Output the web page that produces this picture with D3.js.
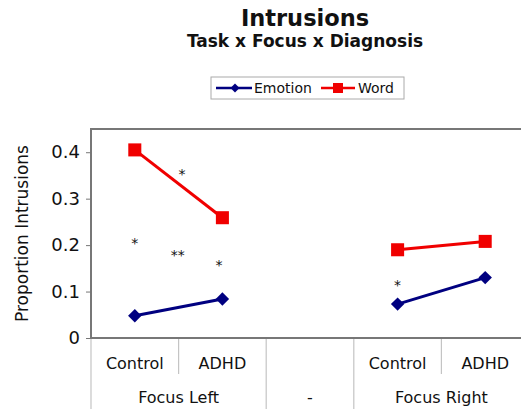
<!DOCTYPE html>
<html>
<head>
<meta charset="utf-8">
<script src="https://cdn.jsdelivr.net/npm/d3@7"></script>
<style>
  body { margin: 0; background: #fff; }
  text { font-family: "DejaVu Sans", Verdana, sans-serif; fill: #111; }
</style>
</head>
<body>
<script>
// categories along the x axis (5 slots, middle one empty)
var slots = ["Control", "ADHD", "", "Control", "ADHD"];
var groups = [
  {label: "Focus Left", from: 0, to: 2},
  {label: "-", from: 2, to: 3},
  {label: "Focus Right", from: 3, to: 5}
];
// series values, split in the left and right focus segments
var seriesNames = ["Emotion", "Word"];
var emotionLeft = [0.048, 0.084];
var emotionRight = [0.073, 0.130];
var wordLeft = [0.405, 0.259];
var wordRight = [0.190, 0.208];
var yTicks = [0, 0.1, 0.2, 0.3, 0.4];
// significance asterisks: slot position and value
var starPos = [0, 0.54, 0.49, 0.96, 3];
var starVal = [0.21, 0.358, 0.184, 0.164, 0.121];
var starText = ["*", "*", "**", "*", "*"];

var width = 521, height = 409;
var margin = {top: 129, left: 91, bottom: 71};
var plotRight = 529;

var blue = "#000080", red = "#f00000";

var svg = d3.select("body").append("svg")
    .attr("width", width)
    .attr("height", height);

var x = d3.scaleBand().domain(d3.range(slots.length)).range([margin.left, plotRight]).padding(0);
var xPos = d3.scaleLinear().domain([-0.5, slots.length - 0.5]).range([margin.left, plotRight]);
var y = d3.scaleLinear().domain([0, 0.45]).range([height - margin.bottom, margin.top]);

// title
svg.append("text")
    .attr("x", 305).attr("y", 26)
    .attr("text-anchor", "middle")
    .style("font-size", "22.5px").style("font-weight", "bold")
    .text("Intrusions");
svg.append("text")
    .attr("x", 305).attr("y", 47)
    .attr("text-anchor", "middle")
    .style("font-size", "17px").style("font-weight", "bold")
    .text("Task x Focus x Diagnosis");

// legend
var lg = svg.append("g").attr("transform", "translate(211,77)");
lg.append("rect").attr("width", 193).attr("height", 22)
    .attr("fill", "#fff").attr("stroke", "#aaa");
lg.append("line").attr("x1", 5).attr("x2", 41).attr("y1", 11).attr("y2", 11)
    .attr("stroke", blue).attr("stroke-width", 2.5);
lg.append("path").attr("d", d3.symbol(d3.symbolSquare, 40)())
    .attr("transform", "translate(24,11) rotate(45)").attr("fill", blue);
lg.append("text").attr("x", 43).attr("y", 16).style("font-size", "14px").text(seriesNames[0]);
lg.append("line").attr("x1", 110).attr("x2", 144).attr("y1", 11).attr("y2", 11)
    .attr("stroke", red).attr("stroke-width", 2.5);
lg.append("path").attr("d", d3.symbol(d3.symbolSquare, 100)())
    .attr("transform", "translate(127,11)").attr("fill", red);
lg.append("text").attr("x", 147).attr("y", 16).style("font-size", "14px").text(seriesNames[1]);

// plot frame
svg.append("rect")
    .attr("x", margin.left).attr("y", margin.top)
    .attr("width", plotRight - margin.left)
    .attr("height", y(0) - margin.top)
    .attr("fill", "#fff").attr("stroke", "#777").attr("stroke-width", 2);

// y axis
var yAxis = d3.axisLeft(y).tickValues(yTicks).tickSize(5).tickPadding(6)
    .tickFormat(function(d) { return d === 0 ? "0" : d.toFixed(1); });
var ya = svg.append("g").attr("transform", "translate(" + margin.left + ",0)").call(yAxis);
ya.select(".domain").remove();
ya.selectAll(".tick line").attr("stroke", "#777");
ya.selectAll(".tick text").style("font-size", "18px").attr("fill", "#111")
    .style("font-family", "DejaVu Sans, Verdana, sans-serif");

svg.append("text")
    .attr("transform", "translate(28," + ((margin.top + y(0)) / 2) + ") rotate(-90)")
    .attr("text-anchor", "middle")
    .style("font-size", "17px")
    .text("Proportion Intrusions");

// category axis: slot dividers and labels
var divs = d3.range(slots.length + 1);
svg.selectAll(".div").data(divs).enter().append("line")
    .attr("x1", function(d) { return d < slots.length ? x(d) : plotRight; })
    .attr("x2", function(d) { return d < slots.length ? x(d) : plotRight; })
    .attr("y1", y(0) + 1)
    .attr("y2", function(d) {
      var isGroupEdge = groups.some(function(g) { return g.from === d || g.to === d; });
      return isGroupEdge ? height : y(0) + 36;
    })
    .attr("stroke", "#c4c4c4").attr("stroke-width", 1.2);

svg.selectAll(".cat").data(slots).enter().append("text")
    .attr("x", function(d, i) { return x(i) + x.bandwidth() / 2; })
    .attr("y", y(0) + 31)
    .attr("text-anchor", "middle")
    .style("font-size", "16px")
    .text(function(d) { return d; });

svg.selectAll(".grp").data(groups).enter().append("text")
    .attr("x", function(d) { return (xPos(d.from - 0.5) + xPos(d.to - 0.5)) / 2; })
    .attr("y", y(0) + 65)
    .attr("text-anchor", "middle")
    .style("font-size", "16px")
    .text(function(d) { return d.label; });

// series lines and markers
var line = d3.line().x(function(d) { return xPos(d[0]); }).y(function(d) { return y(d[1]); });
function seg(vals, start) { return vals.map(function(v, i) { return [start + i, v]; }); }

var emotion = [seg(emotionLeft, 0), seg(emotionRight, 3)];
var word = [seg(wordLeft, 0), seg(wordRight, 3)];

emotion.forEach(function(s) {
  svg.append("path").datum(s).attr("d", line)
      .attr("fill", "none").attr("stroke", blue).attr("stroke-width", 3);
});
word.forEach(function(s) {
  svg.append("path").datum(s).attr("d", line)
      .attr("fill", "none").attr("stroke", red).attr("stroke-width", 3);
});

var diamond = d3.symbol(d3.symbolSquare, 90)();
var square = d3.symbol(d3.symbolSquare, 170)();
svg.selectAll(".em").data(d3.merge(emotion)).enter().append("path")
    .attr("d", diamond)
    .attr("transform", function(d) { return "translate(" + xPos(d[0]) + "," + y(d[1]) + ") rotate(45)"; })
    .attr("fill", blue);
svg.selectAll(".wd").data(d3.merge(word)).enter().append("path")
    .attr("d", square)
    .attr("transform", function(d) { return "translate(" + xPos(d[0]) + "," + y(d[1]) + ")"; })
    .attr("fill", red);

// asterisks
svg.selectAll(".star").data(starText).enter().append("text")
    .attr("x", function(d, i) { return xPos(starPos[i]); })
    .attr("y", function(d, i) { return y(starVal[i]); })
    .attr("dy", "0.55em")
    .attr("text-anchor", "middle")
    .style("font-size", "14px")
    .attr("fill", "#333")
    .text(function(d) { return d; });
</script>
</body>
</html>
